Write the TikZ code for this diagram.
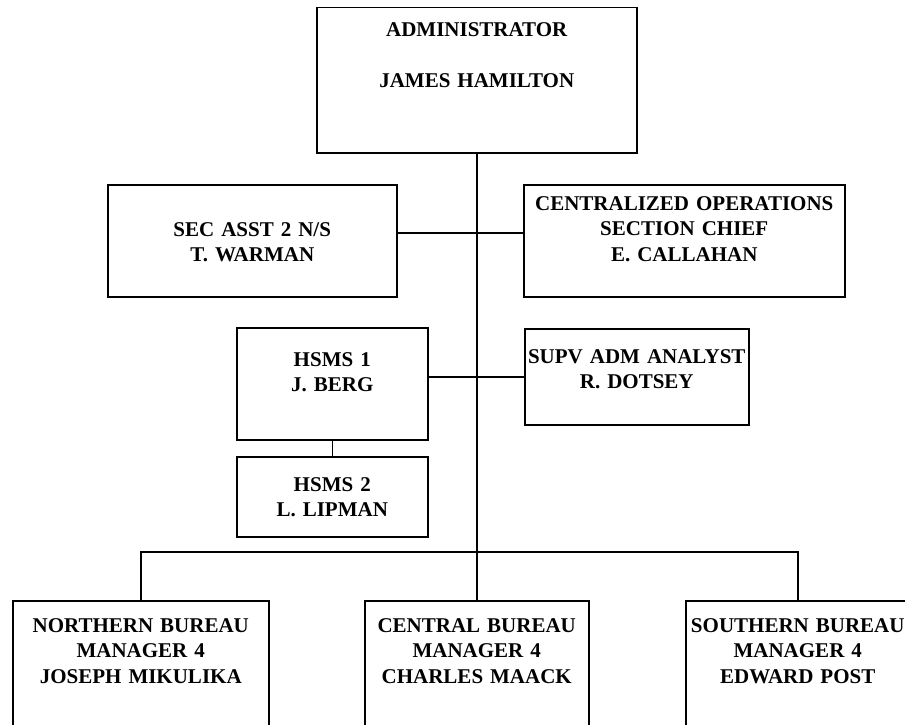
\documentclass[tikz,border=0pt]{standalone}
\usepackage{fontspec}
\setmainfont{Liberation Serif}
\usepackage{tikz}
\usetikzlibrary{calc}
\tikzset{
  orgbox/.style={draw=black, line width=1.5pt, fill=white, inner sep=0pt, anchor=north west},
  orgtext/.style={text width=330pt, align=center, inner sep=0pt, anchor=base,
    font=\fontsize{21}{25.5}\selectfont\bfseries},
  link/.style={draw=black, line width=1.5pt}
}

\begin{document}
\begin{tikzpicture}[x=1pt, y=-1pt]
  \useasboundingbox[fill=white] (0,0) rectangle (905,725);

  % boxes
  \node[orgbox, minimum width=320pt, minimum height=145pt] (admin) at (316,7) {};
  \node[orgbox, minimum width=289pt, minimum height=112pt] (sec) at (107,184) {};
  \node[orgbox, minimum width=321pt, minimum height=112pt] (cent) at (523,184) {};
  \node[orgbox, minimum width=191pt, minimum height=112pt] (hsms1) at (236,327) {};
  \node[orgbox, minimum width=224pt, minimum height=96pt] (supv) at (524,328) {};
  \node[orgbox, minimum width=191pt, minimum height=80pt] (hsms2) at (236,456) {};
  \node[orgbox, minimum width=256pt, minimum height=150pt] (northB) at (12,600) {};
  \node[orgbox, minimum width=224pt, minimum height=150pt] (centralB) at (364,600) {};
  \node[orgbox, minimum width=224pt, minimum height=150pt] (southB) at (685,600) {};

  % texts
  \node[orgtext] (adminTxt) at ($(admin.north)+(0,30)$) {ADMINISTRATOR\\[25.5pt]JAMES HAMILTON};
  \node[orgtext] (secTxt) at ($(sec.north)+(0,52)$) {SEC ASST 2 N/S\\T. WARMAN};
  \node[orgtext] (centTxt) at ($(cent.north)+(0,26)$) {CENTRALIZED OPERATIONS\\SECTION CHIEF\\E. CALLAHAN};
  \node[orgtext] (hsms1Txt) at ($(hsms1.north)+(0,39)$) {HSMS 1\\J. BERG};
  \node[orgtext] (supvTxt) at ($(supv.north)+(0,35)$) {SUPV ADM ANALYST\\R. DOTSEY};
  \node[orgtext] (hsms2Txt) at ($(hsms2.north)+(0,35)$) {HSMS 2\\L. LIPMAN};
  \node[orgtext] (northTxt) at ($(northB.north)+(0,32)$) {NORTHERN BUREAU\\MANAGER 4\\JOSEPH MIKULIKA};
  \node[orgtext] (centralTxt) at ($(centralB.north)+(0,32)$) {CENTRAL BUREAU\\MANAGER 4\\CHARLES MAACK};
  \node[orgtext] (southTxt) at ($(southB.north)+(0,32)$) {SOUTHERN BUREAU\\MANAGER 4\\EDWARD POST};

  % lines
  \coordinate (bus) at (476,552);
  \draw[link] (admin.south) -- (centralB.north);
  \draw[link] ([yshift=8pt]sec.east) -- ([yshift=8pt]cent.west);
  \draw[link] (supv.west) -- (supv.west -| hsms1.east);
  \draw[link] (hsms1.south) -- (hsms2.north);
  \draw[link] (northB.north) |- (bus) -| (southB.north);
\end{tikzpicture}
\end{document}
